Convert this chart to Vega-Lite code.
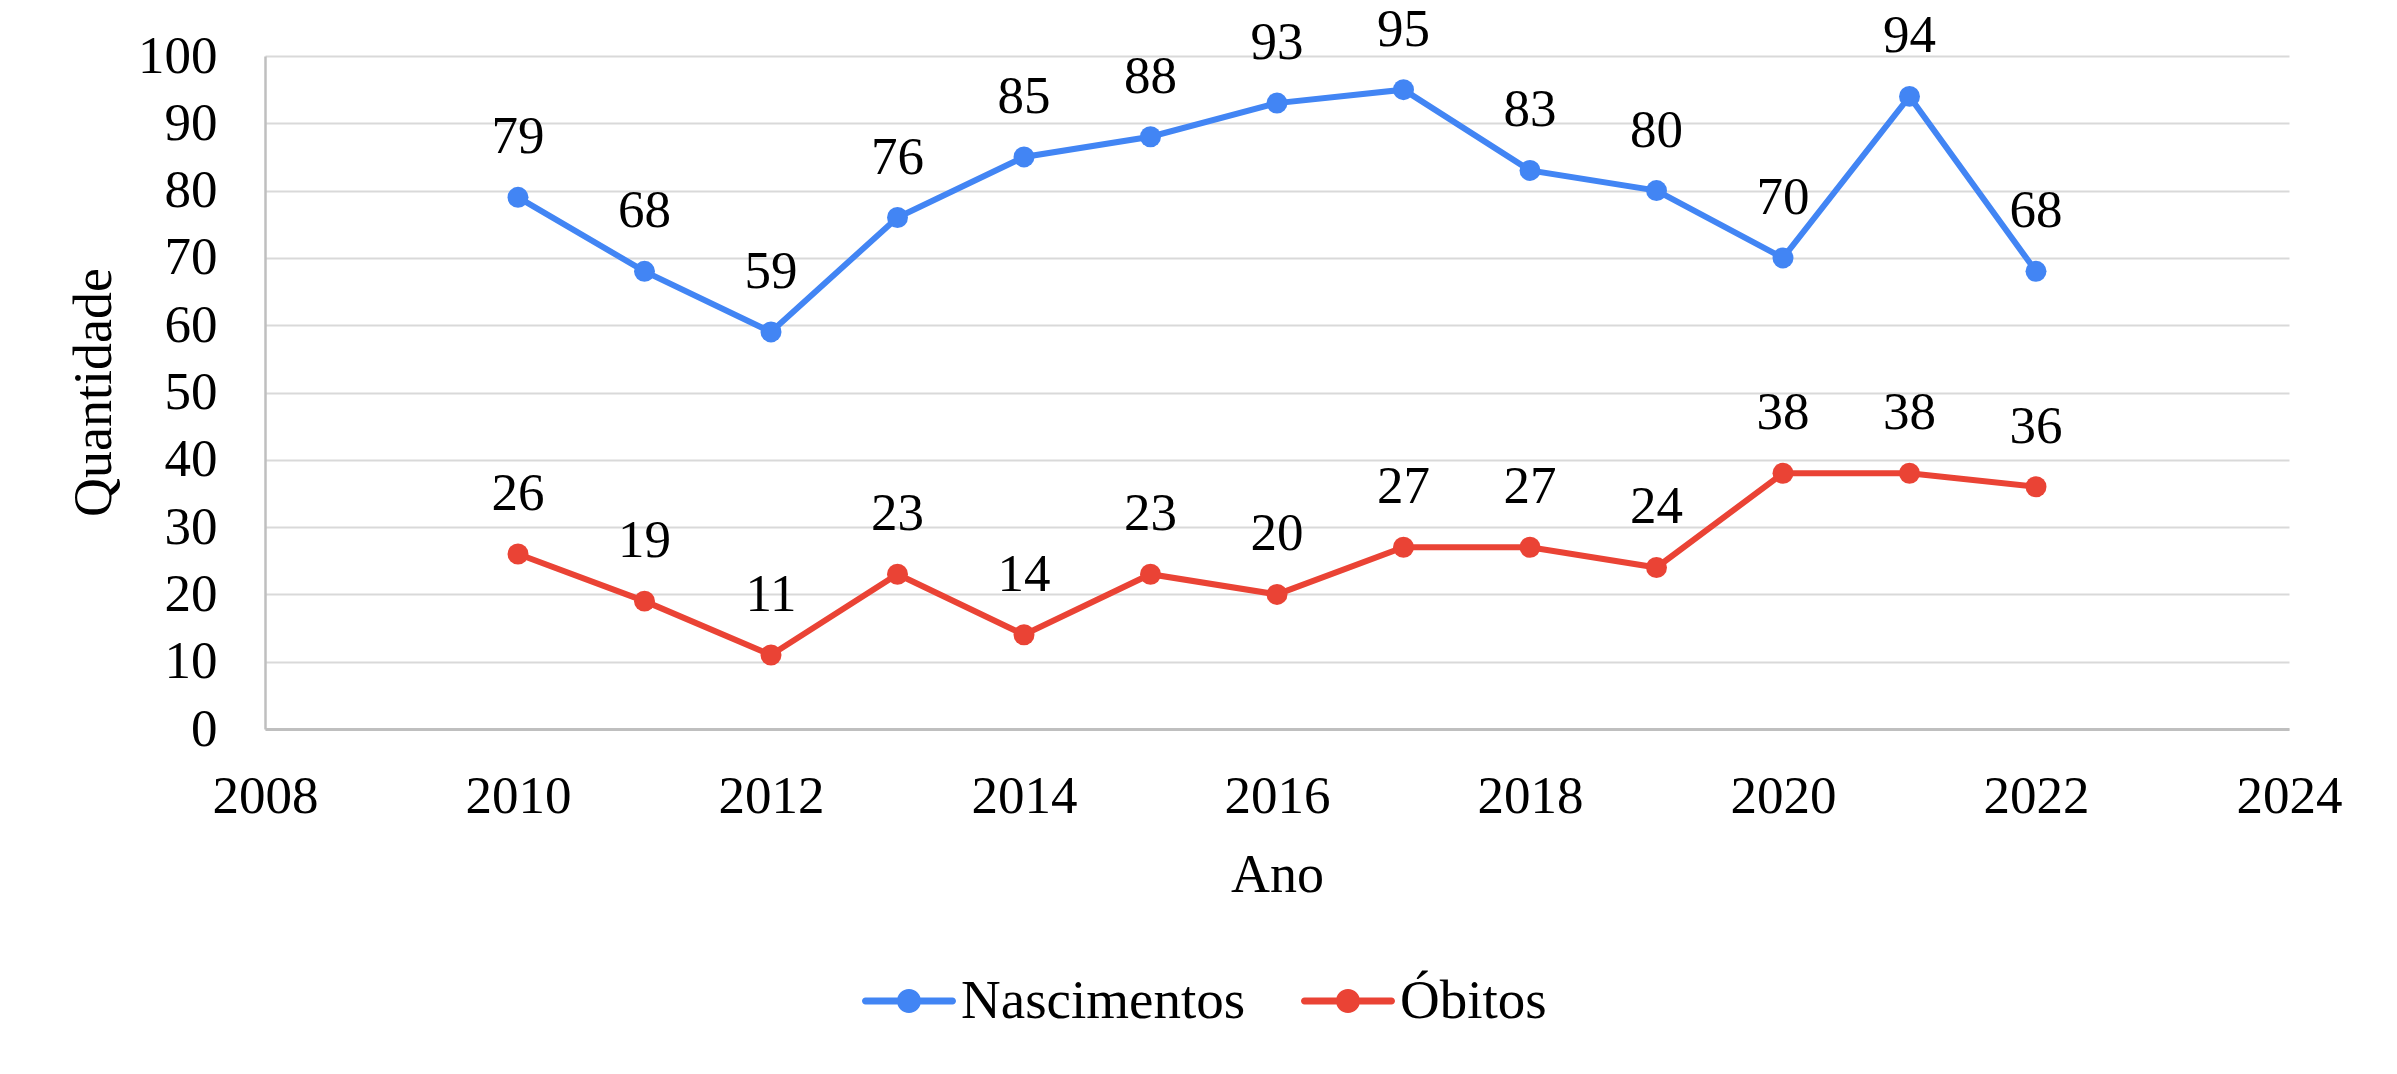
{
  "$schema": "https://vega.github.io/schema/vega-lite/v6.json",
  "width": 2024,
  "height": 673,
  "autosize": {"type": "none"},
  "padding": {"left": 265, "top": 56, "right": 108, "bottom": 345},
  "background": "white",
  "config": {"font": "Liberation Serif", "view": {"stroke": null}},
  "data": {
    "values": [
      {"Ano": 2010, "Serie": "Nascimentos", "Quantidade": 79},
      {"Ano": 2011, "Serie": "Nascimentos", "Quantidade": 68},
      {"Ano": 2012, "Serie": "Nascimentos", "Quantidade": 59},
      {"Ano": 2013, "Serie": "Nascimentos", "Quantidade": 76},
      {"Ano": 2014, "Serie": "Nascimentos", "Quantidade": 85},
      {"Ano": 2015, "Serie": "Nascimentos", "Quantidade": 88},
      {"Ano": 2016, "Serie": "Nascimentos", "Quantidade": 93},
      {"Ano": 2017, "Serie": "Nascimentos", "Quantidade": 95},
      {"Ano": 2018, "Serie": "Nascimentos", "Quantidade": 83},
      {"Ano": 2019, "Serie": "Nascimentos", "Quantidade": 80},
      {"Ano": 2020, "Serie": "Nascimentos", "Quantidade": 70},
      {"Ano": 2021, "Serie": "Nascimentos", "Quantidade": 94},
      {"Ano": 2022, "Serie": "Nascimentos", "Quantidade": 68},
      {"Ano": 2010, "Serie": "Óbitos", "Quantidade": 26},
      {"Ano": 2011, "Serie": "Óbitos", "Quantidade": 19},
      {"Ano": 2012, "Serie": "Óbitos", "Quantidade": 11},
      {"Ano": 2013, "Serie": "Óbitos", "Quantidade": 23},
      {"Ano": 2014, "Serie": "Óbitos", "Quantidade": 14},
      {"Ano": 2015, "Serie": "Óbitos", "Quantidade": 23},
      {"Ano": 2016, "Serie": "Óbitos", "Quantidade": 20},
      {"Ano": 2017, "Serie": "Óbitos", "Quantidade": 27},
      {"Ano": 2018, "Serie": "Óbitos", "Quantidade": 27},
      {"Ano": 2019, "Serie": "Óbitos", "Quantidade": 24},
      {"Ano": 2020, "Serie": "Óbitos", "Quantidade": 38},
      {"Ano": 2021, "Serie": "Óbitos", "Quantidade": 38},
      {"Ano": 2022, "Serie": "Óbitos", "Quantidade": 36}
    ]
  },
  "encoding": {
    "x": {
      "field": "Ano",
      "type": "quantitative",
      "scale": {"domain": [2008, 2024], "nice": false, "zero": false},
      "axis": {
        "title": "Ano",
        "values": [2008, 2010, 2012, 2014, 2016, 2018, 2020, 2022, 2024],
        "format": "d",
        "ticks": false,
        "grid": false,
        "labelFlush": false,
        "labelOverlap": false,
        "labelPadding": 83,
        "labelBaseline": "alphabetic",
        "labelFontSize": 53,
        "labelColor": "black",
        "domainColor": "#bfbfbf",
        "domainWidth": 3,
        "titleFontSize": 54,
        "titleFontWeight": "normal",
        "titleColor": "black",
        "titleY": 162,
        "titleBaseline": "alphabetic"
      }
    },
    "y": {
      "field": "Quantidade",
      "type": "quantitative",
      "scale": {"domain": [0, 100], "nice": false},
      "axis": {
        "title": "Quantidade",
        "values": [0, 10, 20, 30, 40, 50, 60, 70, 80, 90, 100],
        "ticks": false,
        "labelPadding": 48,
        "labelFontSize": 53,
        "labelColor": "black",
        "domainColor": "#bfbfbf",
        "domainWidth": 2.5,
        "gridColor": "#d9d9d9",
        "gridWidth": 2,
        "titleFontSize": 54,
        "titleFontWeight": "normal",
        "titleColor": "black",
        "titleX": -155,
        "titleY": 336,
        "titleBaseline": "alphabetic"
      }
    },
    "color": {
      "field": "Serie",
      "type": "nominal",
      "scale": {"domain": ["Nascimentos", "Óbitos"], "range": ["#4285F4", "#EA4335"]},
      "legend": {
        "orient": "none",
        "legendX": 597,
        "legendY": 898,
        "direction": "horizontal",
        "title": null,
        "labelFontSize": 55,
        "labelColor": "black",
        "labelLimit": 0,
        "labelOffset": 5,
        "columnPadding": 55,
        "symbolType": "M-0.925,-0.075 L0.925,-0.075 A0.075,0.075 0 0,1 0.925,0.075 L-0.925,0.075 A0.075,0.075 0 0,1 -0.925,-0.075 Z M-0.255,0 A0.255,0.255 0 1,1 0.255,0 A0.255,0.255 0 1,1 -0.255,0 Z",
        "symbolSize": 8836,
        "symbolStrokeWidth": 0,
        "encode": {
          "symbols": {
            "update": {
              "fill": {"scale": "color", "field": "value"},
              "strokeWidth": {"value": 0},
              "opacity": {"value": 1}
            }
          }
        }
      }
    }
  },
  "layer": [
    {
      "mark": {"type": "line", "strokeWidth": 6, "point": {"filled": true, "size": 440, "opacity": 1}}
    },
    {
      "mark": {"type": "text", "fontSize": 53, "dy": -44, "baseline": "alphabetic", "align": "center"},
      "encoding": {
        "text": {"field": "Quantidade", "type": "quantitative"},
        "color": {"value": "black"}
      }
    }
  ]
}
